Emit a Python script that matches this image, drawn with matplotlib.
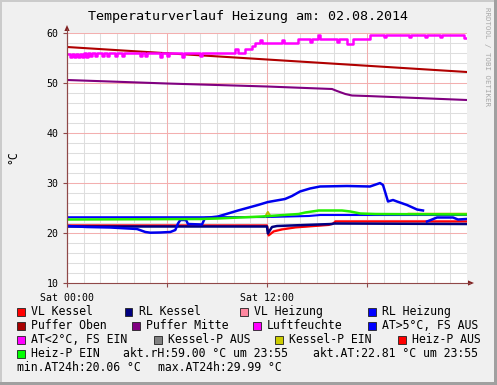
import numpy as np
import matplotlib
matplotlib.use('Agg')
import matplotlib.pyplot as plt
from matplotlib.patches import Rectangle, Polygon
from matplotlib.lines import Line2D

W, H = 497, 385
FONT = 'DejaVu Sans Mono'

# ---------------- data ----------------
title = "Temperaturverlauf Heizung am: 02.08.2014"
y_label = "°C"
watermark = "RRDTOOL / TOBI OETIKER"
x_tick_hours = [0, 6, 12, 18]
x_tick_labels = ["Sat 00:00", "", "Sat 12:00", ""]
y_ticks = [10, 20, 30, 40, 50, 60]

# hours since Sat 00:00 / degrees
puffer_oben_h = [0, 6, 12, 18, 24]
puffer_oben_v = [57.2, 55.95, 54.7, 53.45, 52.2]

puffer_mitte_h = [0, 6, 12, 15.9, 16.2, 16.7, 17.1, 18, 24]
puffer_mitte_v = [50.6, 49.9, 49.3, 48.8, 48.4, 47.8, 47.5, 47.4, 46.6]

rh_h = [0.00, 0.18, 0.30, 0.42, 0.54, 0.66, 0.78, 0.90, 1.02, 1.14,
        1.26, 1.38, 1.50, 1.68, 1.80, 2.10, 2.22, 2.40, 2.52, 2.88,
        3.00, 3.30, 3.42, 4.38, 4.50, 4.68, 4.80, 5.58, 5.70, 6.00,
        6.12, 6.90, 7.02, 7.98, 8.10, 10.08, 10.26, 10.68, 11.10, 11.28,
        11.58, 11.70, 12.90, 13.02, 13.86, 14.58, 14.70, 15.06, 15.18, 16.20,
        16.32, 16.80, 17.16, 18.18, 19.00, 19.12, 20.50, 20.62, 21.50, 21.62,
        22.40, 22.52, 23.82, 24.00]
rh_v = [55.9, 55.3, 55.9, 55.3, 55.9, 55.3, 55.9, 55.3, 56.0, 55.3,
        56.0, 55.4, 56.0, 55.4, 56.0, 55.4, 56.0, 55.4, 56.0, 55.5,
        56.0, 55.4, 56.0, 55.5, 56.0, 55.5, 56.0, 55.2, 56.0, 55.4,
        56.0, 55.3, 56.0, 55.5, 56.0, 56.8, 56.0, 56.8, 57.4, 58.0,
        58.7, 58.0, 58.7, 58.0, 58.8, 58.3, 58.8, 59.6, 58.8, 58.2,
        58.8, 57.9, 58.8, 59.6, 59.2, 59.7, 59.3, 59.7, 59.2, 59.7,
        59.3, 59.7, 59.0, 59.0]

vl_kessel_h = [0, 12.0, 12.1, 12.4, 12.9, 13.7, 15.7, 16.0, 16.1, 24]
vl_kessel_v = [21.5, 21.5, 19.5, 20.3, 20.7, 21.1, 21.6, 21.9, 22.3, 22.3]

vl_heizung_h = [0, 12.0, 12.1, 12.4, 12.9, 13.7, 15.7, 16.0, 16.1, 24]
vl_heizung_v = [21.55, 21.55, 19.6, 20.4, 20.8, 21.2, 21.7, 22.0, 22.4, 22.4]

rl_kessel_h = [0, 12.0, 12.05, 12.3, 12.6, 15.9, 16.0, 24]
rl_kessel_v = [21.3, 21.3, 19.9, 21.2, 21.4, 21.8, 21.9, 21.8]

rl_heizung_h = [0, 8, 12, 14.5, 15.2, 24]
rl_heizung_v = [23.15, 23.15, 23.2, 23.4, 23.6, 23.6]

at_h = [0, 1.2, 2.6, 4.2, 4.7, 5.0, 5.6, 6.2, 6.5, 6.66,
        6.8, 7.14, 7.26, 8.1, 8.28, 9.06, 10.26, 11.46, 12.06, 13.08,
        13.5, 13.98, 14.58, 15.18, 16.8, 18.18, 18.78, 18.96, 19.26, 19.56,
        19.8, 20.4, 21.0, 21.36, 21.48, 21.6, 22.2, 23.16, 23.46, 24.0]
at_v = [21.4, 21.2, 21.1, 20.8, 20.2, 20.06, 20.1, 20.2, 20.6, 21.9,
        22.6, 22.6, 21.8, 21.7, 23.0, 23.3, 24.5, 25.6, 26.2, 26.8,
        27.4, 28.3, 28.9, 29.3, 29.4, 29.3, 29.99, 29.6, 26.3, 26.6,
        26.3, 25.6, 24.7, 24.5, np.nan, 22.3, 23.1, 23.1, 22.7, 22.81]

kessel_p_ein_h = [11.9, 12.05, 12.2, 12.3, 20.5, 24]
kessel_p_ein_v = [23.3, 24.2, 23.4, np.nan, 23.85, 23.85]

heiz_p_ein_h = [0, 8, 9, 11.7, 13.9, 14.3, 15.1, 16.5, 17.0, 17.6, 18.5, 24]
heiz_p_ein_v = [22.7, 22.8, 22.9, 23.3, 23.8, 24.1, 24.5, 24.5, 24.3, 23.9, 23.8, 23.7]

legend_names = ["VL Kessel", "RL Kessel", "VL Heizung", "RL Heizung",
                "Puffer Oben", "Puffer Mitte", "Luftfeuchte", "AT>5°C, FS AUS",
                "AT<2°C, FS EIN", "Kessel-P AUS", "Kessel-P EIN", "Heiz-P AUS",
                "Heiz-P EIN"]
legend_colors = ["#FF0000", "#000080", "#FF88A0", "#0000FF",
                 "#A80000", "#800080", "#FF00FF", "#0000FF",
                 "#FF00FF", "#808080", "#CCCC00", "#FF0000",
                 "#00FF00"]
stat_texts = ["akt.rH:59.00 °C um 23:55", "akt.AT:22.81 °C um 23:55",
              "min.AT24h:20.06 °C", "max.AT24h:29.99 °C"]

# ---------------- layout ----------------
def fx(x):
    return x / W

def fy(y):
    return 1 - y / H

fig = plt.figure(figsize=(W / 100, H / 100), dpi=100)
fig.patch.set_facecolor('#F0F0F0')

# 3D border
fig.add_artist(Rectangle((0, 0), fx(2), 1, transform=fig.transFigure, color='#CBCBCB', lw=0))
fig.add_artist(Rectangle((0, fy(2)), 1, 2 / H, transform=fig.transFigure, color='#CBCBCB', lw=0))
fig.add_artist(Rectangle((fx(W - 3), 0), 3 / W, 1, transform=fig.transFigure, color='#A0A0A0', lw=0))
fig.add_artist(Rectangle((0, 0), 1, 3 / H, transform=fig.transFigure, color='#A0A0A0', lw=0))

L, R, T, B = 67, 467, 33, 283
ax = fig.add_axes([fx(L), fy(B), (R - L) / W, (B - T) / H])
ax.set_facecolor('white')
ax.set_xlim(0, 24)
ax.set_ylim(10, 60)

minor_c = '#DEDEDE'
major_c = '#F3AFAF'
for h in range(1, 24):
    if h % 6:
        ax.axvline(h, color=minor_c, lw=0.75, zorder=0)
for v in range(12, 61, 2):
    if v % 10:
        ax.axhline(v, color=minor_c, lw=0.75, zorder=0)
for h in (6, 12, 18):
    ax.axvline(h, color=major_c, lw=0.75, zorder=0.5)
for v in (20, 30, 40, 50, 60):
    ax.axhline(v, color=major_c, lw=0.75, zorder=0.5)

lw = 1.5
ax.plot(vl_heizung_h, vl_heizung_v, color=legend_colors[2], lw=lw, zorder=2)
ax.plot(vl_kessel_h, vl_kessel_v, color=legend_colors[0], lw=lw, zorder=2)
ax.plot(rl_kessel_h, rl_kessel_v, color=legend_colors[1], lw=lw + 0.3, zorder=2)
ax.plot(rl_heizung_h, rl_heizung_v, color=legend_colors[3], lw=lw, zorder=2)
ax.plot(puffer_oben_h, puffer_oben_v, color='#B00000', lw=lw, zorder=2)
ax.plot(puffer_mitte_h, puffer_mitte_v, color=legend_colors[5], lw=lw, zorder=2)
ax.plot(rh_h, rh_v, color=legend_colors[6], lw=lw + 0.3, drawstyle='steps-post', zorder=2)
ax.plot(at_h, at_v, color='#0000EE', lw=1.8, zorder=3)
ax.plot(kessel_p_ein_h, kessel_p_ein_v, color='#BBBB00', lw=lw, zorder=3)
ax.plot(heiz_p_ein_h, heiz_p_ein_v, color='#22EE00', lw=lw + 0.3, zorder=3)

axis_c = '#904848'
for s in ('top', 'right'):
    ax.spines[s].set_visible(False)
for s in ('left', 'bottom'):
    ax.spines[s].set_color(axis_c)
    ax.spines[s].set_linewidth(0.8)
    ax.spines[s].set_zorder(4)

ax.set_yticks(y_ticks)
ax.set_yticklabels([str(v) for v in y_ticks], fontsize=7.1, family=FONT)
ax.set_xticks(x_tick_hours)
ax.set_xticklabels(x_tick_labels, fontsize=7.1, family=FONT)
ax.tick_params(axis='y', length=3, width=0.8, color=axis_c, pad=3)
ax.tick_params(axis='x', length=3, width=0.8, color=axis_c, pad=4.5)

# axis extensions with arrows
arrow_c = '#802020'
fig.add_artist(Line2D([fx(L), fx(L)], [fy(B), fy(29)], transform=fig.transFigure, color=axis_c, lw=0.8))
fig.add_artist(Polygon([[fx(L), fy(25)], [fx(L - 2.6), fy(31)], [fx(L + 2.6), fy(31)]],
                       closed=True, transform=fig.transFigure, color=arrow_c, lw=0))
fig.add_artist(Line2D([fx(R), fx(470)], [fy(B), fy(B)], transform=fig.transFigure, color=axis_c, lw=0.8))
fig.add_artist(Polygon([[fx(474), fy(B)], [fx(468), fy(B - 2.6)], [fx(468), fy(B + 2.6)]],
                       closed=True, transform=fig.transFigure, color=arrow_c, lw=0))

# texts
fig.text(fx(248), fy(20), title, ha='center', va='baseline', fontsize=9.6, family=FONT)
fig.text(fx(13), fy(157), y_label, ha='center', va='center', rotation=90, fontsize=8.3, family=FONT)
fig.text(fx(487), fy(7), watermark, ha='center', va='top', rotation=270, fontsize=5.3,
         family=FONT, color='#A8A8A8')

# legend (entry index, text x)
rows_layout = [
    [(0, 31), (1, 139), (2, 254), (3, 382)],
    [(4, 31), (5, 146), (6, 267), (7, 382)],
    [(8, 31), (9, 168), (10, 289), (11, 412)],
    [(12, 31)],
]
base = [315, 329, 343, 357, 371]
LEG_FS = 8.3
for r, row in enumerate(rows_layout):
    yb = base[r]
    for idx, tx in row:
        bx = tx - 14
        fig.add_artist(Rectangle((fx(bx), fy(yb + 0.5)), 7.5 / W, 7.5 / H, transform=fig.transFigure,
                                 facecolor=legend_colors[idx], edgecolor='#202020', lw=0.6))
        fig.text(fx(tx), fy(yb), legend_names[idx], ha='left', va='baseline', fontsize=LEG_FS, family=FONT)

fig.text(fx(123), fy(base[3]), stat_texts[0], ha='left', va='baseline', fontsize=LEG_FS, family=FONT)
fig.text(fx(313), fy(base[3]), stat_texts[1], ha='left', va='baseline', fontsize=LEG_FS, family=FONT)
fig.text(fx(17), fy(base[4]), stat_texts[2], ha='left', va='baseline', fontsize=LEG_FS, family=FONT)
fig.text(fx(158), fy(base[4]), stat_texts[3], ha='left', va='baseline', fontsize=LEG_FS, family=FONT)

fig.savefig('out.png', dpi=100, facecolor=fig.get_facecolor())
